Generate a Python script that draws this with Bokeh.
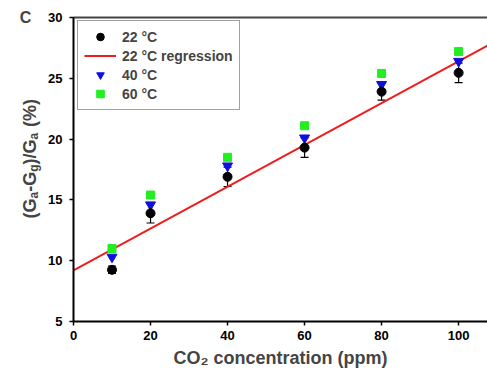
import math
from bokeh.plotting import figure
from bokeh.models import (Range1d, LinearAxis, FixedTicker, Legend, LegendItem,
                          Label, Whisker, TeeHead, ColumnDataSource)
from bokeh.embed import file_html
from bokeh.resources import INLINE

# ---- data ----
co2 = [10, 20, 40, 60, 80, 100]
t22 = [9.25, 13.9, 16.9, 19.3, 23.9, 25.45]
t22_err = [0.3, 0.8, 0.8, 0.8, 0.7, 0.8]
t40 = [10.3, 14.6, 17.8, 20.1, 24.5, 26.4]
t60 = [11.0, 15.4, 18.5, 21.1, 25.4, 27.2]
reg_intercept = 9.2
reg_slope = 0.172
x_ticks = [0, 20, 40, 60, 80, 100]
y_ticks = [5, 10, 15, 20, 25, 30]
x_min, x_max = 0, 107.5
y_min, y_max = 5, 30

FONT = "Liberation Sans"
W, H = 487, 371
# pixel layout of the axes box inside the canvas
LEFT, RIGHT, TOP, BOTTOM = 73, 487, 17, 321
xs = (RIGHT - LEFT) / (x_max - x_min)
ys = (BOTTOM - TOP) / (y_max - y_min)

p = figure(width=W, height=H, output_backend="svg", toolbar_location=None,
           x_range=Range1d(x_min - LEFT / xs, x_max + (W - RIGHT) / xs),
           y_range=Range1d(y_min - (H - BOTTOM) / ys, y_max + TOP / ys),
           x_axis_type=None, y_axis_type=None,
           min_border=0)
p.outline_line_color = None
p.grid.visible = False
p.background_fill_color = "white"
p.border_fill_color = "white"


def style_axis(ax):
    ax.axis_line_width = 2
    ax.axis_line_color = "black"
    ax.major_tick_in = 0
    ax.major_tick_out = 4
    ax.major_tick_line_width = 1.5
    ax.minor_tick_line_color = None
    ax.major_label_text_font = FONT
    ax.major_label_text_font_style = "bold"
    ax.major_label_text_font_size = "13px"
    ax.major_label_text_color = "black"


xax = LinearAxis(ticker=FixedTicker(ticks=x_ticks), fixed_location=y_min,
                 bounds=(x_min, x_max))
style_axis(xax)
xax.major_label_standoff = 5
p.add_layout(xax, "below")

yax = LinearAxis(ticker=FixedTicker(ticks=y_ticks), fixed_location=x_min,
                 bounds=(y_min, y_max))
style_axis(yax)
yax.major_label_standoff = 7
p.add_layout(yax, "left")

top = LinearAxis(ticker=FixedTicker(ticks=[]), fixed_location=y_max,
                 bounds=(x_min, x_max))
top.axis_line_width = 2
top.axis_line_color = "#444444"
top.major_label_text_font_size = "0px"
top.major_tick_line_color = None
top.minor_tick_line_color = None
p.add_layout(top, "above")

# regression line
reg_x = [x_min, x_max]
reg_y = [reg_intercept + reg_slope * v for v in reg_x]
r_reg = p.line(reg_x, reg_y, line_color="#ee1c1c", line_width=2)

# error bars for 22 C
src = ColumnDataSource(dict(x=co2, y=t22,
                            lower=[a - b for a, b in zip(t22, t22_err)],
                            upper=[a + b for a, b in zip(t22, t22_err)]))
wh = Whisker(source=src, base="x", lower="lower", upper="upper",
             line_color="black", line_width=1.2,
             upper_head=TeeHead(size=8, line_color="black", line_width=1.2),
             lower_head=TeeHead(size=8, line_color="black", line_width=1.2))
p.add_layout(wh)

r60 = p.scatter(co2, t60, marker="square", size=8, fill_color="#22ee22",
                line_color="#22ee22")
r40 = p.scatter(co2, t40, marker="inverted_triangle", size=10,
                fill_color="#1010dd", line_color="#1010dd")
r22 = p.scatter(co2, t22, marker="circle", size=9, fill_color="black",
                line_color="black")

legend = Legend(items=[
    LegendItem(label="22 °C", renderers=[r22]),
    LegendItem(label="22 °C regression", renderers=[r_reg]),
    LegendItem(label="40 °C", renderers=[r40]),
    LegendItem(label="60 °C", renderers=[r60]),
], location=(77, H - 110))
legend.label_text_font = FONT
legend.label_text_font_style = "bold"
legend.label_text_font_size = "14px"
legend.label_height = 19
legend.glyph_height = 19
legend.glyph_width = 32
legend.label_standoff = 6
legend.padding = 6
legend.spacing = 0
legend.margin = 0
legend.border_line_color = "#444444"
legend.border_line_width = 1.5
legend.background_fill_alpha = 1
p.add_layout(legend, "center")

# panel letter
p.add_layout(Label(x=25, y=H - 17, x_units="screen", y_units="screen", text="C",
                   text_font=FONT, text_font_style="bold", text_font_size="16px",
                   text_align="center", text_baseline="middle"))

# x axis label
p.add_layout(Label(x=280, y=H - 357, x_units="screen", y_units="screen",
                   text="CO₂ concentration (ppm)",
                   text_font=FONT, text_font_style="bold", text_font_size="18px",
                   text_align="center", text_baseline="middle"))

# y axis label built from pieces (with subscripts); (text, subscript?, advance)
pieces = [("(G", False, 20.0), ("a", True, 6.7), ("-G", False, 20.0),
          ("g", True, 7.3), (")/G", False, 25.0), ("a", True, 7.5),
          ("(%)", False, 28.0)]
pos = H - 218
base_x = 29
for i, (txt, sub, w) in enumerate(pieces):
    if txt == "(%)":
        pos += 5  # word space
    p.add_layout(Label(x=base_x + (4 if sub else 0), y=pos, x_units="screen",
                       y_units="screen", text=txt, angle=math.pi / 2,
                       text_font=FONT, text_font_style="bold",
                       text_font_size="12px" if sub else "18px",
                       text_align="left", text_baseline="alphabetic"))
    pos += w

open("out.html", "w").write(file_html(p, INLINE))
